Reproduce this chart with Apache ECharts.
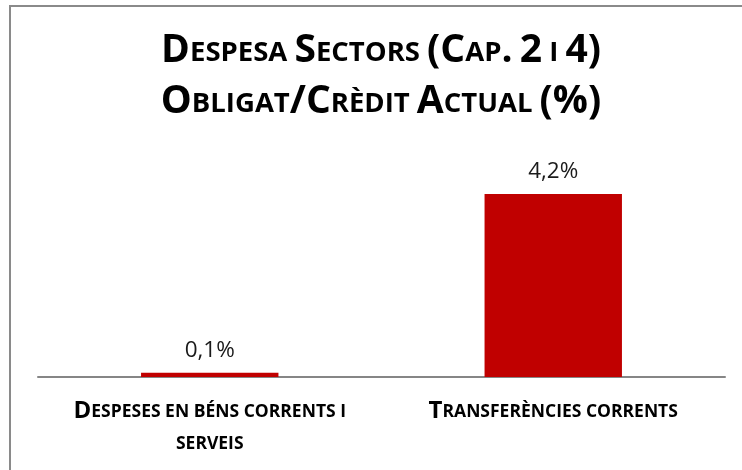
<!DOCTYPE html>
<html>
<head>
<meta charset="utf-8">
<script src="https://cdn.jsdelivr.net/npm/echarts@6/dist/echarts.min.js"></script>
<style>
html, body { margin:0; padding:0; background:#fff; }
#chart { width:742px; height:470px; }
</style>
</head>
<body>
<div id="chart"></div>
<script>
var titleLines = ['Despesa Sectors (Cap. 2 i 4)', 'Obligat/Crèdit Actual (%)'];
var categories = ['Despeses en béns corrents i\nserveis', 'Transferències corrents'];
var values = [0.1, 4.2];
var yMax = 5;

var fontName = '"Open Sans", sans-serif';
var barColor = '#C00000';

// versaletes: majúscules grans, minúscules com a majúscules petites
function smallCaps(str, big, small){
    return str.split('\n').map(function(line){
        var out = '', kind = null, buf = '';
        for (var i = 0; i < line.length; i++){
            var ch = line[i];
            var low = ch === ' ' || (ch.toLowerCase() === ch && ch.toUpperCase() !== ch);
            var k = low ? small : big;
            if (k !== kind && buf){ out += '{' + kind + '|' + buf + '}'; buf = ''; }
            kind = k;
            buf += low ? ch.toUpperCase() : ch;
        }
        if (buf) out += '{' + kind + '|' + buf + '}';
        return out;
    }).join('\n');
}

var option = {
    animation: false,
    backgroundColor: '#fff',
    graphic: [{
        type: 'rect', silent: true, z: -1,
        shape: {x: 10, y: 6, width: 800, height: 500},
        style: {fill: 'none', stroke: '#8a8a8a', lineWidth: 2}
    }],
    title: {
        text: smallCaps(titleLines.join('\n'), 'B', 'S'),
        left: 376, top: 14, textAlign: 'center',
        textStyle: {
            rich: {
                B: {fontFamily: fontName, fontSize: 39, fontWeight: 'bold', color: '#000', lineHeight: 51, verticalAlign: 'bottom'},
                S: {fontFamily: fontName, fontSize: 27.5, fontWeight: 'bold', color: '#000', lineHeight: 51, verticalAlign: 'bottom', padding: [0, 0, 3, 0]}
            }
        }
    },
    grid: {left: 38, right: 17, top: 159, bottom: 93, outerBoundsMode: 'none'},
    xAxis: {
        type: 'category',
        data: categories,
        axisTick: {show: false},
        axisLine: {lineStyle: {color: '#868686', width: 2}},
        axisLabel: {
            interval: 0, margin: 14,
            formatter: function(v){ return smallCaps(v, 'B', 'S'); },
            rich: {
                B: {fontFamily: fontName, fontSize: 24, fontWeight: 'bold', color: '#000', lineHeight: 32, verticalAlign: 'bottom'},
                S: {fontFamily: fontName, fontSize: 17.5, fontWeight: 'bold', color: '#000', lineHeight: 32, verticalAlign: 'bottom', padding: [0, 0, 2, 0]}
            }
        }
    },
    yAxis: {type: 'value', min: 0, max: yMax, show: false, splitLine: {show: false}},
    series: [{
        type: 'bar',
        data: values,
        barWidth: '40%',
        itemStyle: {color: barColor},
        label: {
            show: true, position: 'top', distance: 11,
            fontFamily: fontName, fontSize: 22.5, color: '#1a1a1a',
            formatter: function(p){ return p.value.toFixed(1).replace('.', ',') + '%'; }
        }
    }]
};
echarts.init(document.getElementById('chart')).setOption(option);
</script>
</body>
</html>
